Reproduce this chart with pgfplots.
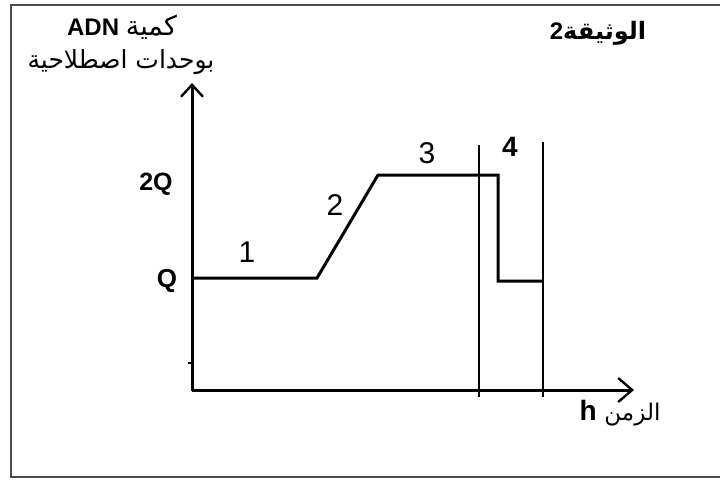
\documentclass[border=0pt]{standalone}
\usepackage{fontspec}
\setmainfont{Liberation Sans}
\newfontfamily\arabicfont[Script=Arabic]{DejaVu Sans}
\TeXXeTstate=1
\usepackage{pgfplots}
\pgfplotsset{compat=1.18}
\usetikzlibrary{arrows.meta}
\begin{document}
\begin{tikzpicture}
\begin{axis}[
    scale only axis,
    width=361pt, height=239.5pt,
    xmin=0, xmax=722,
    ymin=0, ymax=479,
    y dir=reverse,
    hide axis,
    clip=false,
]
% keep the whole page
\path (rel axis cs:0,0) rectangle (rel axis cs:1,1);
% frame (open on the right)
\addplot[draw=black!70, line width=1pt] coordinates {(720,5) (11,5) (11,477) (720,477)};
% axes
\addplot[line width=1.5pt, -{Straight Barb[length=6pt,width=11pt,line width=1.2pt]}]
    coordinates {(192,391) (192,83)};
\addplot[line width=1.5pt, -{Straight Barb[length=7pt,width=12pt,line width=1.2pt]}]
    coordinates {(192,390) (634,390)};
\addplot[line width=0.6pt] coordinates {(188,363) (192,363)};
% phase separators
\addplot[line width=0.75pt] coordinates {(479,145) (479,397)};
\addplot[line width=0.75pt] coordinates {(543,142) (543,397)};
% DNA amount
\addplot[line width=1.5pt, line join=miter] coordinates {
    (192,278) (317,278) (378,175) (498,175) (498,281) (543,281)
};
% texts
\node at (axis cs:122,27) {\fontsize{12}{14}\selectfont\textbf{ADN} {\arabicfont\fontsize{13.5}{15}\selectfont\beginR كمية\endR}};
\node at (axis cs:121,62) {\fontsize{12.5}{14}\selectfont\arabicfont\beginR بوحدات اصطلاحية\endR};
\node at (axis cs:598,33) {\fontsize{12}{14}\selectfont\textbf{2}{\arabicfont\bfseries\beginR الوثيقة\endR}};
\node at (axis cs:620,413) {\fontsize{14}{16}\selectfont\textbf{h} {\arabicfont\fontsize{11.5}{13}\selectfont\beginR الزمن\endR}};
\node at (axis cs:156,184) {\fontsize{12.5}{14}\selectfont\textbf{2Q}};
\node at (axis cs:167,281) {\fontsize{13}{15}\selectfont\textbf{Q}};
\node at (axis cs:247,252) {\fontsize{15}{17}\selectfont 1};
\node at (axis cs:335,205) {\fontsize{15}{17}\selectfont 2};
\node at (axis cs:427,153) {\fontsize{15}{17}\selectfont 3};
\node at (axis cs:510,147) {\fontsize{14}{16}\selectfont\textbf{4}};
\end{axis}
\end{tikzpicture}
\end{document}
